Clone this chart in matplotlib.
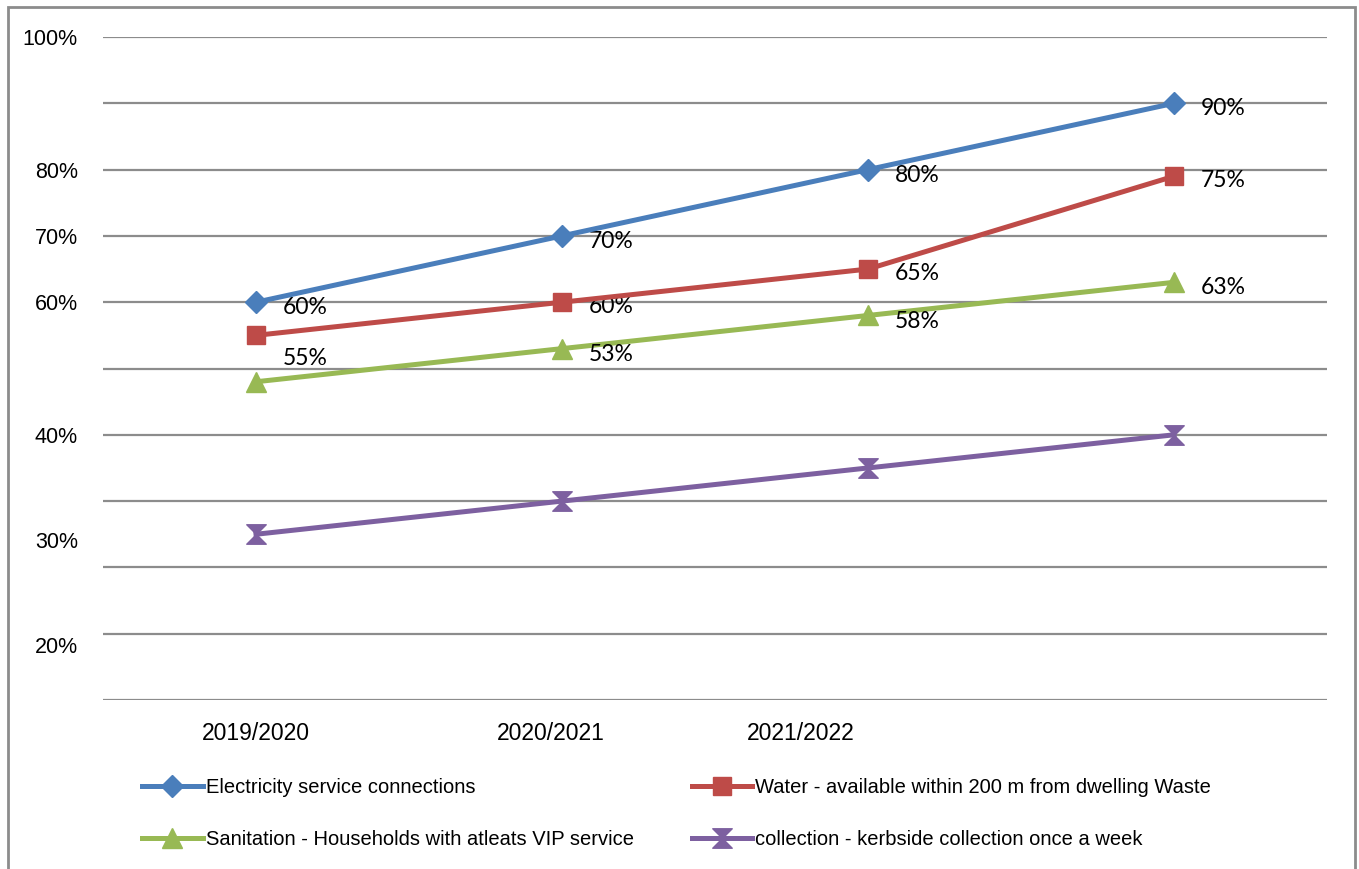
import matplotlib
matplotlib.use("Agg")
import matplotlib.pyplot as plt
from matplotlib.path import Path
from matplotlib.patches import Rectangle

# data
years = ["2019/2020", "2020/2021", "2021/2022", ""]
electricity = [60, 70, 80, 90]
water = [55, 60, 65, 79]
sanitation = [48, 53, 58, 63]
waste = [25, 30, 35, 40]

elec_labels = ["60%", "70%", "80%", "90%"]
water_labels = ["55%", "60%", "65%", "75%"]
sanit_labels = ["", "53%", "58%", "63%"]

# the y tick labels in the original sit a bit off the gridlines
ytick_pos = [100, 80, 70, 60, 40, 24.1, 8.3]
ytick_txt = ["100%", "80%", "70%", "60%", "40%", "30%", "20%"]
xtick_pos = [0.5, 1.464, 2.281]
xtick_txt = years[:3]

sansfont = ["Liberation Sans", "DejaVu Sans"]
lblfont = ["Lato", "DejaVu Sans"]

# hourglass marker for waste collection
hourglass = Path([(-1, 1), (1, 1), (0, 0), (1, -1), (-1, -1), (0, 0), (-1, 1)],
                 [Path.MOVETO, Path.LINETO, Path.LINETO, Path.LINETO,
                  Path.LINETO, Path.LINETO, Path.CLOSEPOLY])

fig = plt.figure(figsize=(13.59, 8.69), dpi=100)
ax = fig.add_axes([103/1359, 1 - 700/869, 1224/1359, 663/869])

x = [0.5, 1.5, 2.5, 3.5]
l1, = ax.plot(x, electricity, color="#4A7EBB", lw=3.6, marker="D", ms=11, zorder=5)
l2, = ax.plot(x, water, color="#BE4B48", lw=3.6, marker="s", ms=12.5, zorder=4)
l3, = ax.plot(x, sanitation, color="#98B954", lw=3.6, marker="^", ms=14, zorder=3)
l4, = ax.plot(x, waste, color="#7D60A0", lw=3.6, marker=hourglass, ms=14, zorder=3)

for xi, v, t in zip(x, electricity, elec_labels):
    ax.annotate(t, (xi, v), xytext=(19, -4), textcoords="offset points",
                ha="left", va="center", fontsize=16.5, family=lblfont)
for i, (xi, v, t) in enumerate(zip(x, water, water_labels)):
    dy = -17 if i == 0 else -3
    ax.annotate(t, (xi, v), xytext=(19, dy), textcoords="offset points",
                ha="left", va="center", fontsize=16.5, family=lblfont)
for xi, v, t in zip(x, sanitation, sanit_labels):
    if t:
        ax.annotate(t, (xi, v), xytext=(19, -4), textcoords="offset points",
                    ha="left", va="center", fontsize=16.5, family=lblfont)

ax.set_xlim(0, 4)
ax.set_ylim(0, 100)
for g in range(0, 101, 10):
    ax.axhline(g, color="#8C8C8C", lw=1.6, zorder=1)
for s in ax.spines.values():
    s.set_visible(False)

ax.set_yticks(ytick_pos)
ax.set_yticklabels(ytick_txt, fontsize=15.5, family=sansfont)
ax.set_xticks(xtick_pos)
ax.set_xticklabels(xtick_txt, fontsize=16.5, family=sansfont)
ax.tick_params(axis="y", length=0, pad=18)
ax.tick_params(axis="x", length=0, pad=16)

leg = fig.legend([l1, l3, l2, l4],
                 ["Electricity service connections",
                  "Sanitation - Households with atleats VIP service",
                  "Water - available within 200 m from dwelling Waste",
                  "collection - kerbside collection once a week"],
                 ncol=2, loc="upper left", bbox_to_anchor=(124/1359, 1 - 760/869),
                 frameon=False, handlelength=3.0, handletextpad=0.15,
                 columnspacing=2.9, labelspacing=1.65,
                 prop={"family": sansfont, "size": 14.5})

fig.patches.append(Rectangle((8/1359, -0.05), 1347/1359, 1 - 7/869 + 0.05,
                             transform=fig.transFigure, fill=False,
                             edgecolor="#8C8C8C", lw=2))

fig.savefig("out.png", dpi=100)
